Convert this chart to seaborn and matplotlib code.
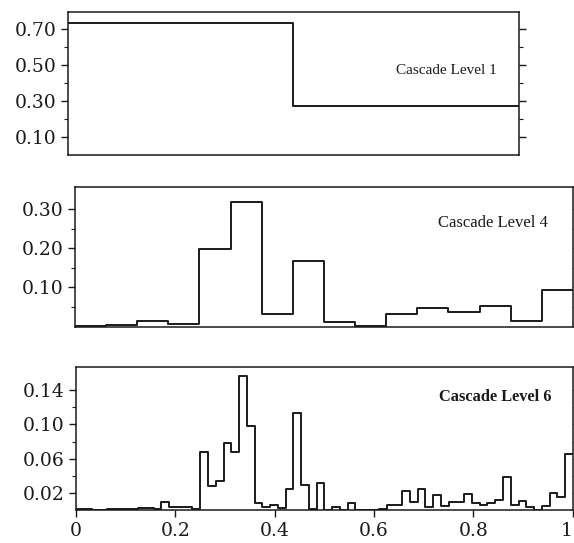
import matplotlib
matplotlib.use("Agg")
import matplotlib.pyplot as plt
import seaborn as sns
import numpy as np
import pandas as pd

# cascade measures (one value per dyadic bin on [0, 1])
level1 = [0.73, 0.27]

level4 = [0.002, 0.005, 0.014, 0.007, 0.199, 0.319, 0.033, 0.167,
          0.011, 0.001, 0.033, 0.048, 0.037, 0.053, 0.015, 0.093]

level6 = [0.001, 0.001, 0.0005, 0.0005, 0.001, 0.001, 0.001, 0.001,
          0.0025, 0.0025, 0.001, 0.009, 0.003, 0.003, 0.003, 0.001,
          0.068, 0.028, 0.034, 0.078, 0.068, 0.156, 0.098, 0.008,
          0.004, 0.0056, 0.0025, 0.025, 0.1135, 0.029, 0.001, 0.032,
          0.0005, 0.004, 0.0005, 0.008, 0.0005, 0.0005, 0.0005, 0.001,
          0.0056, 0.0056, 0.022, 0.009, 0.025, 0.004, 0.018, 0.005,
          0.0095, 0.0095, 0.019, 0.008, 0.0056, 0.0076, 0.0115, 0.038,
          0.006, 0.010, 0.003, 0.0005, 0.005, 0.020, 0.015, 0.065]

labels = ["Cascade Level 1", "Cascade Level 4", "Cascade Level 6"]
x_ticks = [0, 0.2, 0.4, 0.6, 0.8, 1]
x_ticklabels = ["0", "0.2", "0.4", "0.6", "0.8", "1"]

y_major = [[0.1, 0.3, 0.5, 0.7], [0.1, 0.2, 0.3], [0.02, 0.06, 0.10, 0.14]]
y_minor = [[0.2, 0.4, 0.6], [0.05, 0.15, 0.25], [0.04, 0.08, 0.12]]
y_top = [0.794, 0.357, 0.1667]

sns.set_style("ticks")
plt.rcParams["font.family"] = ["DejaVu Serif", "Liberation Serif"]

fig = plt.figure(figsize=(5.74, 5.43), dpi=100)
# each panel in the scan has its own frame
boxes = [[0.1185, 0.7145, 0.7855, 0.2635],
         [0.1307, 0.3983, 0.8673, 0.2579],
         [0.1324, 0.0608, 0.8656, 0.2628]]
label_pos = [(0.84, 0.59, "normal", 11), (0.84, 0.74, "normal", 12), (0.843, 0.79, "bold", 11.8)]

ink = "#1a1a1a"
for i, vals in enumerate([level1, level4, level6]):
    ax = fig.add_axes(boxes[i])
    n = len(vals)
    edges = np.linspace(0, 1, n + 1)
    df = pd.DataFrame({"x": edges, "mass": list(vals) + [vals[-1]]})
    sns.lineplot(data=df, x="x", y="mass", estimator=None, drawstyle="steps-post",
                 color=ink, linewidth=1.4, ax=ax)
    ax.set_xlim(0, 1)
    ax.set_ylim(0, y_top[i])
    ax.set_ylabel("")
    ax.set_xlabel("")
    ax.set_yticks(y_major[i])
    ax.set_yticklabels(["%.2f" % v for v in y_major[i]], fontsize=13.5, color=ink)
    ax.set_yticks(y_minor[i], minor=True)
    ax.tick_params(axis="y", which="major", length=5, width=1, color=ink, right=True, pad=3)
    ax.tick_params(axis="y", which="minor", length=3, width=0.8, color=ink, right=True)
    if i == 2:
        ax.set_xticks(x_ticks)
        ax.set_xticklabels(x_ticklabels, fontsize=13.5, color=ink)
        ax.tick_params(axis="x", length=5, width=1, color=ink)
        ax.get_xticklabels()[-1].set_horizontalalignment("right")
    else:
        ax.set_xticks([])
    for s in ax.spines.values():
        s.set_color(ink)
        s.set_linewidth(1.1)
    lx, ly, fw, fs = label_pos[i]
    ax.text(lx, ly, labels[i], transform=ax.transAxes, ha="center", va="center",
            fontsize=fs, fontweight=fw, color=ink, family="Liberation Serif")

fig.savefig("out.png", dpi=100)
